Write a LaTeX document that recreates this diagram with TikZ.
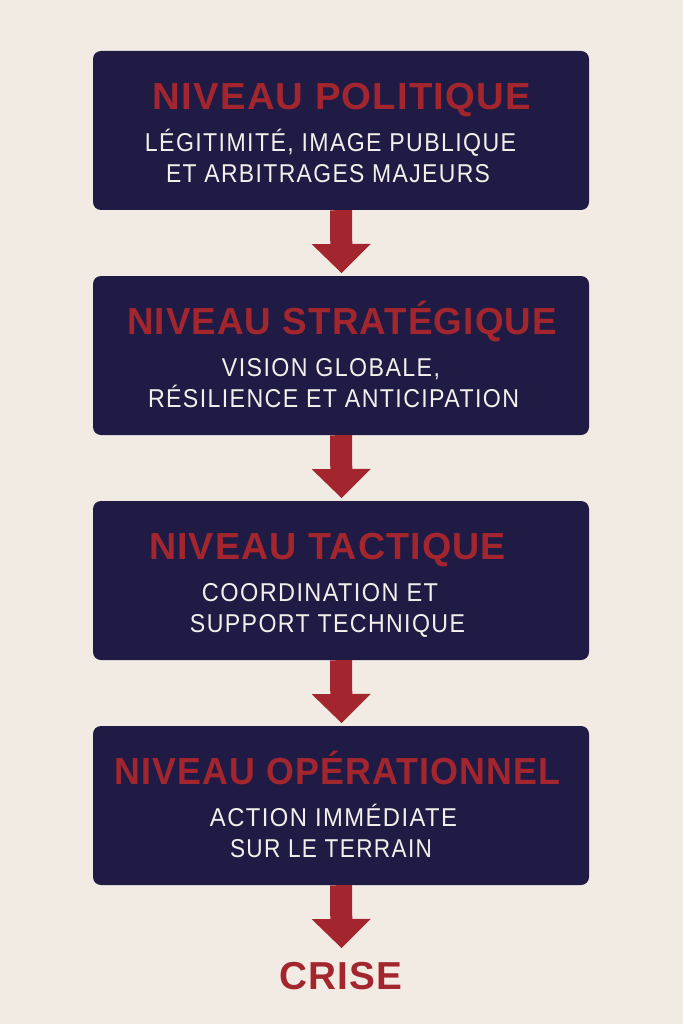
\documentclass[tikz,border=0pt]{standalone}
\usepackage{fontspec}
\setmainfont{Liberation Sans}
\newfontfamily\subfont[LetterSpace=6]{Liberation Sans}
\newfontfamily\titlefont[LetterSpace=3]{Liberation Sans}
\usepackage{graphicx}
\usetikzlibrary{arrows.meta}
\definecolor{bgc}{HTML}{F1EBE4}
\definecolor{navy}{HTML}{1F1B45}
\definecolor{crimson}{HTML}{A3262E}
\definecolor{softwhite}{HTML}{F3F0EB}
\newcommand{\fitw}[2]{\resizebox{#1}{\height}{#2}}
\begin{document}
\begin{tikzpicture}[x=1pt,y=-1pt,
  levelbox/.style={draw=none,fill=navy,rounded corners=8pt,minimum width=496pt,minimum height=159pt,inner sep=0pt},
  titletext/.style={anchor=base,inner sep=0pt,text=crimson,font=\titlefont\fontsize{37.7}{40}\selectfont\bfseries},
  subtext/.style={anchor=base,inner sep=0pt,text=softwhite,font=\subfont\fontsize{25.8}{28}\selectfont},
  downarrow/.style={draw=crimson,line width=22pt,-{Triangle[width=59pt,length=29pt,line width=0pt,fill=crimson]}}
]
\fill[bgc] (0,0) rectangle (683,1024);
\useasboundingbox (0,0) rectangle (683,1024);

\node[levelbox] (b1) at (341,130.5) {};
\node[levelbox] (b2) at (341,355.5) {};
\node[levelbox] (b3) at (341,580.5) {};
\node[levelbox] (b4) at (341,805.5) {};

% box 1
\node[titletext] (t1) at (342,109.5) {\fitw{378pt}{NIVEAU POLITIQUE}};
\node[subtext] (s1a) at (330.5,151.5) {\fitw{371pt}{LÉGITIMITÉ, IMAGE PUBLIQUE}};
\node[subtext] (s1b) at (328,182.5) {\fitw{324pt}{ET ARBITRAGES MAJEURS}};
% box 2
\node[titletext] (t2) at (342,334.5) {\fitw{430pt}{NIVEAU STRATÉGIQUE}};
\node[subtext] (s2a) at (331,376.5) {\fitw{218pt}{VISION GLOBALE,}};
\node[subtext] (s2b) at (333.5,407.5) {\fitw{371pt}{RÉSILIENCE ET ANTICIPATION}};
% box 3
\node[titletext] (t3) at (327.5,559.5) {\fitw{357pt}{NIVEAU TACTIQUE}};
\node[subtext] (s3a) at (320,601.5) {\fitw{236pt}{COORDINATION ET}};
\node[subtext] (s3b) at (327.5,632.5) {\fitw{275pt}{SUPPORT TECHNIQUE}};
% box 4
\node[titletext] (t4) at (337.5,784.5) {\fitw{445pt}{NIVEAU OPÉRATIONNEL}};
\node[subtext] (s4a) at (333.5,826.5) {\fitw{247pt}{ACTION IMMÉDIATE}};
\node[subtext] (s4b) at (331,857.5) {\fitw{202pt}{SUR LE TERRAIN}};

% crise
\node[anchor=base,inner sep=0pt,text=crimson,font=\titlefont\fontsize{39}{42}\selectfont\bfseries] (crise) at (341,989) {\fitw{123pt}{CRISE}};

% arrows
\coordinate (a1) at (341.5,273);
\coordinate (a2) at (341.5,498);
\coordinate (a3) at (341.5,723);
\coordinate (a4) at (341.5,948);
\draw[downarrow] (b1.south) -- (a1);
\draw[downarrow] (b2.south) -- (a2);
\draw[downarrow] (b3.south) -- (a3);
\draw[downarrow] (b4.south) -- (a4);
\end{tikzpicture}
\end{document}
